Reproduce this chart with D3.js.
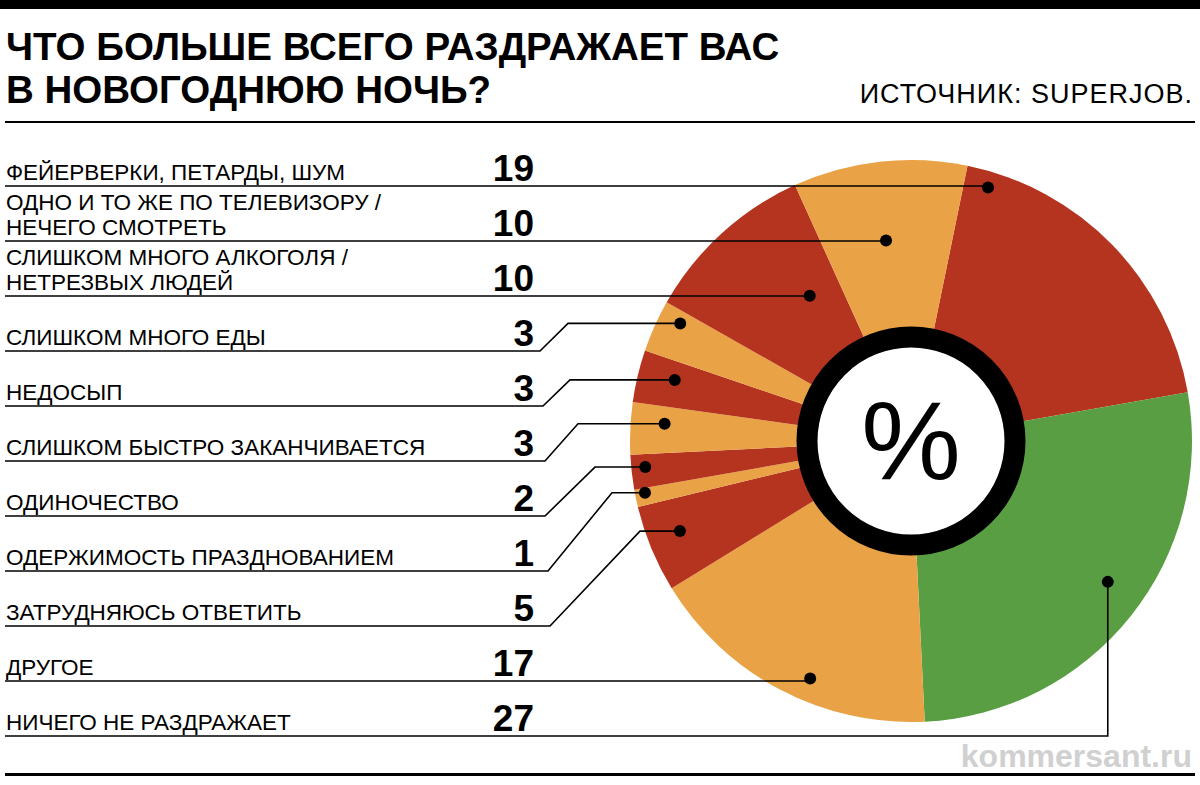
<!DOCTYPE html>
<html><head><meta charset="utf-8">
<script src="https://cdn.jsdelivr.net/npm/d3@7"></script>
<style>body{margin:0;background:#fff}</style></head>
<body><svg id="c" width="1200" height="785"></svg>
<script>
const labels=[["ФЕЙЕРВЕРКИ, ПЕТАРДЫ, ШУМ"],["ОДНО И ТО ЖЕ ПО ТЕЛЕВИЗОРУ /","НЕЧЕГО СМОТРЕТЬ"],["СЛИШКОМ МНОГО АЛКОГОЛЯ /","НЕТРЕЗВЫХ ЛЮДЕЙ"],["СЛИШКОМ МНОГО ЕДЫ"],["НЕДОСЫП"],["СЛИШКОМ БЫСТРО ЗАКАНЧИВАЕТСЯ"],["ОДИНОЧЕСТВО"],["ОДЕРЖИМОСТЬ ПРАЗДНОВАНИЕМ"],["ЗАТРУДНЯЮСЬ ОТВЕТИТЬ"],["ДРУГОЕ"],["НИЧЕГО НЕ РАЗДРАЖАЕТ"]];
const values=[19,10,10,3,3,3,2,1,5,17,27];
const colors=["#b5341f","#e9a245","#b5341f","#e9a245","#b5341f","#e9a245","#b5341f","#e9a245","#b5341f","#e9a245","#5a9e43"];
const pieOrder=[0,10,9,8,7,6,5,4,3,2,1];
const dotPos=[[16.9,265],[352.9,202],[325.1,177],[297,259],[284.5,244],[274,247],[264.4,267],[259,271],[248.7,248],[203,258],[125.6,242]];
const elbow=[null,null,null,[540,568],[543,570],[545,578],[545,595],[548,612],[550,640],null,null];

const svg=d3.select("#c");
const cx=911,cy=441,R=281;
svg.append("rect").attr("x",0).attr("y",0).attr("width",1200).attr("height",9).attr("fill","#000");
svg.append("text").attr("x",6).attr("y",60).attr("font-family","Liberation Sans").attr("font-weight","bold").attr("font-size",38.5).text("ЧТО БОЛЬШЕ ВСЕГО РАЗДРАЖАЕТ ВАС");
svg.append("text").attr("x",6).attr("y",103).attr("font-family","Liberation Sans").attr("font-weight","bold").attr("font-size",38.5).text("В НОВОГОДНЮЮ НОЧЬ?");
svg.append("text").attr("x",1193).attr("y",103).attr("text-anchor","end").attr("font-family","Liberation Sans").attr("font-size",27).attr("letter-spacing",1).text("ИСТОЧНИК: SUPERJOB.");
svg.append("rect").attr("x",5).attr("y",121).attr("width",1190).attr("height",2).attr("fill","#000");
svg.append("rect").attr("x",5).attr("y",773).attr("width",1190).attr("height",3).attr("fill","#000");
svg.append("text").attr("x",1192).attr("y",767).attr("text-anchor","end").attr("font-family","Liberation Sans").attr("font-weight","bold").attr("font-size",32).attr("fill","#d0d0d0").text("kommersant.ru");

const g=svg.append("g").attr("transform",`translate(${cx},${cy})`);
const ordered=pieOrder.map(i=>({i,v:values[i]}));
const pie=d3.pie().value(d=>d.v).sort(null).startAngle(11.6*Math.PI/180).endAngle(11.6*Math.PI/180+2*Math.PI);
const arc=d3.arc().innerRadius(0).outerRadius(R);
g.selectAll("path.s").data(pie(ordered)).join("path").attr("d",arc).attr("fill",d=>colors[d.data.i]);
g.append("circle").attr("r",104).attr("fill","#fff").attr("stroke","#000").attr("stroke-width",21);
g.append("text").attr("y",38).attr("text-anchor","middle").attr("font-family","Liberation Sans").attr("font-size",112).text("%");

const rowY=i=>186+55*i;
labels.forEach((lb,i)=>{
  const y=rowY(i);
  const [ang,r]=dotPos[i];
  const p=d3.pointRadial(ang*Math.PI/180,r);
  const dx=cx+p[0],dy=cy+p[1];
  let pts;
  if(elbow[i]) pts=[[5,y],[elbow[i][0],y],[elbow[i][1],dy],[dx,dy]];
  else pts=[[5,y],[dx,y],[dx,dy]];
  svg.append("path").attr("d",d3.line()(pts)).attr("fill","none").attr("stroke","#000").attr("stroke-width",1.6);
  svg.append("circle").attr("cx",dx).attr("cy",dy).attr("r",6).attr("fill","#000");
  lb.forEach((t,k)=>{
    svg.append("text").attr("x",6).attr("y",y-6-(lb.length-1-k)*25).attr("font-family","Liberation Sans").attr("font-size",22.5).text(t);
  });
  svg.append("text").attr("x",534).attr("y",y-5).attr("text-anchor","end").attr("font-family","Liberation Sans").attr("font-weight","bold").attr("font-size",37).text(values[i]);
});
</script></body></html>
